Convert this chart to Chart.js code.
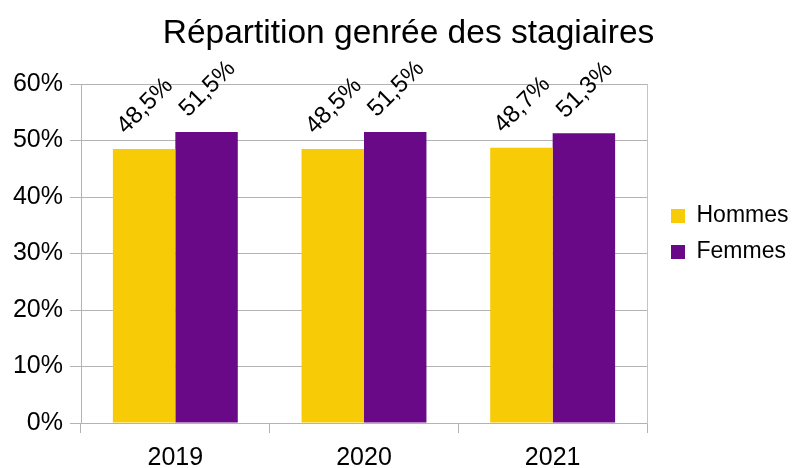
<!DOCTYPE html>
<html>
<head>
<meta charset="utf-8">
<script src="https://cdn.jsdelivr.net/npm/chart.js@4"></script>
<style>
  html, body { margin: 0; padding: 0; background: #fff; }
  #wrap { width: 801px; height: 468px; }
</style>
</head>
<body>
<div id="wrap"><canvas id="c" width="801" height="468"></canvas></div>
<script>
const categories = ['2019', '2020', '2021'];
const hommes = [48.5, 48.5, 48.7];
const femmes = [51.5, 51.5, 51.3];
const seriesNames = ['Hommes', 'Femmes'];
const titleText = 'Répartition genrée des stagiaires';

const FONT = "'Liberation Sans', Arial, sans-serif";
const fmt = v => v.toFixed(1).replace('.', ',') + '%';

const valueLabels = {
  id: 'valueLabels',
  afterDatasetsDraw(chart) {
    const ctx = chart.ctx;
    ctx.save();
    ctx.fillStyle = '#000';
    ctx.font = '24px ' + FONT;
    ctx.textAlign = 'center';
    ctx.textBaseline = 'middle';
    chart.data.datasets.forEach((ds, di) => {
      const meta = chart.getDatasetMeta(di);
      meta.data.forEach((el, i) => {
        ctx.save();
        ctx.translate(el.x + 1, el.y - 43);
        ctx.rotate(-Math.PI / 4);
        ctx.fillText(fmt(ds.data[i]), 0, 0);
        ctx.restore();
      });
    });
    ctx.restore();
  }
};

const layoutTweaks = {
  id: 'layoutTweaks',
  beforeLayout(chart) {
    const lg = chart.legend;
    if (lg && !lg._fixedW) {
      const f = lg.fit;
      lg.fit = function () { f.call(this); this.width = 801 - 658; };
      lg._fixedW = true;
    }
  },
  afterLayout(chart) {
    const t = chart.titleBlock;
    if (t) { t.left = 16; }
  }
};

new Chart(document.getElementById('c'), {
  type: 'bar',
  data: {
    labels: categories,
    datasets: [
      { label: seriesNames[0], data: hommes, backgroundColor: '#F7CB05', borderWidth: 0 },
      { label: seriesNames[1], data: femmes, backgroundColor: '#690988', borderWidth: 0 }
    ]
  },
  options: {
    responsive: false,
    animation: false,
    layout: { padding: 0 },
    datasets: { bar: { categoryPercentage: 0.662, barPercentage: 1.0 } },
    plugins: {
      title: {
        display: true,
        text: titleText,
        color: '#000',
        font: { family: FONT, size: 33.5, weight: 'normal' },
        padding: { top: 14, bottom: 29.8 }
      },
      legend: {
        display: true,
        position: 'right',
        labels: {
          color: '#000',
          font: { family: FONT, size: 23 },
          boxWidth: 14,
          boxHeight: 14,
          padding: 13
        }
      },
      tooltip: { enabled: false }
    },
    scales: {
      x: {
        offset: true,
        grid: { display: true, drawOnChartArea: false, drawTicks: true, tickLength: 10, color: '#b3b3b3', offset: true },
        border: { display: true, color: '#b3b3b3' },
        ticks: { color: '#000', font: { family: FONT, size: 25 }, padding: 10 },
        afterFit(s) { s.height = 45; }
      },
      y: {
        min: 0,
        max: 60,
        ticks: { stepSize: 10, color: '#000', font: { family: FONT, size: 25 }, padding: 7, callback: v => v + '%' },
        grid: { color: '#b3b3b3', tickLength: 11, drawTicks: true },
        border: { display: true, color: '#b3b3b3' },
        afterFit(s) { s.width = 81; }
      },
      y2: {
        position: 'right',
        display: true,
        grid: { display: false, drawTicks: false },
        ticks: { display: false },
        border: { display: true, color: '#c4c4c4' },
        afterFit(s) { s.width = 11; }
      }
    }
  },
  plugins: [valueLabels, layoutTweaks]
});
</script>
</body>
</html>
